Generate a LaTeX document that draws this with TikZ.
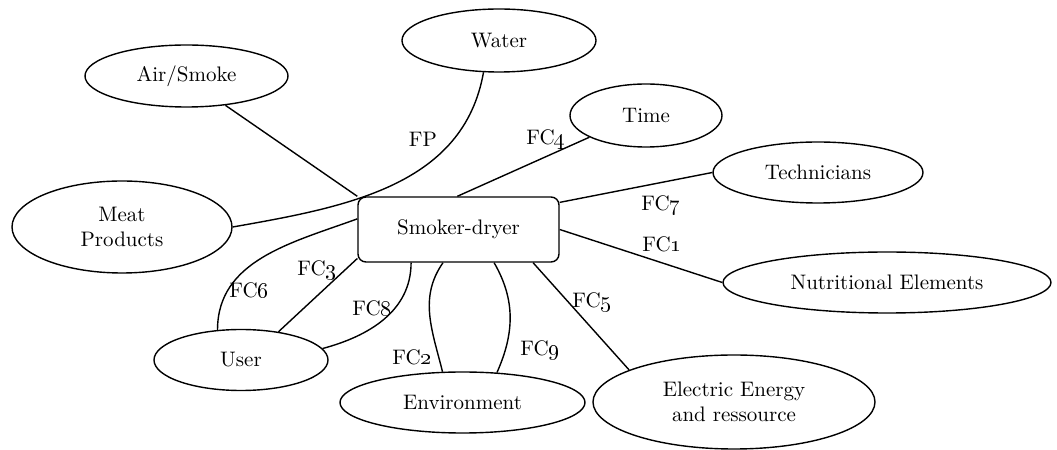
\documentclass[tikz,border=0pt]{standalone}
\usepackage{tikz}
\usetikzlibrary{shapes.geometric, positioning}

\newcommand{\fcnum}[1]{FC\oldstylenums{#1}}

\begin{document}
\begin{tikzpicture}[x=0.5pt, y=0.5pt, line width=0.7pt,
    every node/.style={font=\fontsize{10.5}{12.5}\selectfont},
    oval/.style={draw, ellipse, inner sep=0pt, align=center},
    unitbox/.style={draw, rectangle, rounded corners=4pt, inner sep=0pt,
        minimum width=100.5pt, minimum height=32.5pt},
    fclabel/.style={inner sep=0pt}]
    \useasboundingbox (0,0) rectangle (1057,450);

    % Central unit
    \node[unitbox] (dryer) at (458.5,220.5) {Smoker-dryer};

    % Surrounding elements
    \node[oval, minimum width=97pt, minimum height=31.5pt] (water) at (499,409.5) {Water};
    \node[oval, minimum width=101.5pt, minimum height=31pt] (airsmoke) at (186.5,374) {Air/Smoke};
    \node[oval, minimum width=110pt, minimum height=46pt] (meat) at (122,223) {Meat\\Products};
    \node[oval, minimum width=76pt, minimum height=31.5pt] (time) at (646,334.5) {Time};
    \node[oval, minimum width=105pt, minimum height=30.5pt] (tech) at (818,277.5) {Technicians};
    \node[oval, minimum width=164pt, minimum height=30.5pt] (nutri) at (887,167.5) {Nutritional Elements};
    \node[oval, minimum width=141pt, minimum height=47pt] (energy) at (734,48) {Electric Energy\\and ressource};
    \node[oval, minimum width=122.5pt, minimum height=30.5pt] (env) at (462.5,47.5) {Environment};
    \node[oval, minimum width=87pt, minimum height=30.5pt] (user) at (241,90) {User};

    % Straight links
    \draw (airsmoke.-37) -- (dryer.north west);
    \draw (time.201) -- (dryer.92);
    \draw (tech.west) -- (dryer.15);
    \draw (nutri.west) -- (dryer.east);
    \draw (energy.163) -- (dryer.-24);
    \draw (user.37) -- (dryer.196);

    % Curved links
    \draw (water.-116) to[out=-100, in=10] (meat.east);
    \draw (dryer.174) to[out=200, in=90] (user.128);
    \draw (dryer.-145) to[out=-90, in=15] (user.8);
    \draw (dryer.-115) to[out=-125, in=104] (env.123);
    \draw (dryer.-43) to[out=-60, in=66] (env.41);

    % Function labels
    \node[fclabel] (fp) at (423,311) {FP};
    \node[fclabel] (fc4) at (546,311) {\fcnum{4}};
    \node[fclabel] (fc7) at (661,245) {\fcnum{7}};
    \node[fclabel] (fc1) at (662,206) {\fcnum{1}};
    \node[fclabel] (fc5) at (592,148) {\fcnum{5}};
    \node[fclabel] (fc9) at (540,100) {\fcnum{9}};
    \node[fclabel] (fc2) at (412,93) {\fcnum{2}};
    \node[fclabel] (fc8) at (372,142) {\fcnum{8}};
    \node[fclabel] (fc3) at (317,180) {\fcnum{3}};
    \node[fclabel] (fc6) at (249,160) {\fcnum{6}};
\end{tikzpicture}
\end{document}
